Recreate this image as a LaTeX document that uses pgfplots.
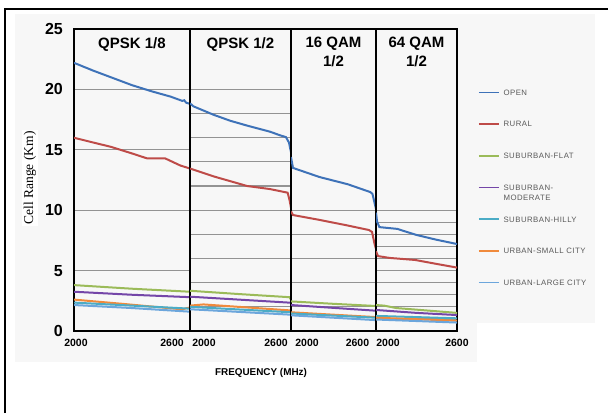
\documentclass[border=0pt]{standalone}
\usepackage{pgfplots}
\pgfplotsset{compat=1.18}
\usepackage{fontspec}
\setmainfont{Liberation Sans}
\newfontfamily\seriffont{Liberation Serif}

\definecolor{cOpen}{HTML}{3E72B8}
\definecolor{cRural}{HTML}{BE4B48}
\definecolor{cFlat}{HTML}{9BBB59}
\definecolor{cMod}{HTML}{7446A8}
\definecolor{cHilly}{HTML}{4BACC6}
\definecolor{cSmall}{HTML}{F08A3C}
\definecolor{cLarge}{HTML}{6CA6DC}
\definecolor{legendgray}{HTML}{595959}
\definecolor{bggray}{HTML}{F7F7F7}

\pgfplotsset{
  panel/.style={
    scale only axis, height=302pt,
    ymin=0, ymax=25, xmin=2000, xmax=2600,
    axis line style={black, line width=1.4pt},
    ymajorgrids, grid style={gray!85, line width=1.2pt},
    major tick length=0pt,
    yticklabels={},
    xticklabel style={font=\fontsize{10.5}{12}\selectfont\bfseries, inner sep=0pt, yshift=-8pt},
    title style={at={(0.5,1)}, anchor=north, yshift=-14pt, align=center,
      font=\fontsize{15}{19}\selectfont\bfseries, inner sep=0pt},
    every axis plot/.append style={line width=2pt, no markers},
  }
}

\begin{document}
\begin{tikzpicture}
\path[use as bounding box] (0,0) rectangle (608pt,413pt);
\fill[bggray] (15pt,51pt) rectangle (477pt,399pt);
\fill[bggray] (477pt,90pt) rectangle (595pt,399pt);
\draw[black, line width=2pt] (5pt,0pt) -- (5pt,404pt) -- (608pt,404pt);

% Panel 1: QPSK 1/8
\begin{axis}[panel, at={(74pt,82pt)}, anchor=south west, width=116pt,
  title={QPSK 1/8},
  ytick={0,5,10,15,20,25}, yticklabels={0,5,10,15,20,25},
  yticklabel style={font=\fontsize{16}{18}\selectfont\bfseries, inner sep=0pt, xshift=-11pt},
  xtick={2010,2507}, xticklabels={2000,2600}]
\addplot[cFlat] coordinates {(2000,3.8)(2150,3.65)(2300,3.5)(2600,3.25)};
\addplot[cMod] coordinates {(2000,3.25)(2300,3.0)(2600,2.8)};
\addplot[cSmall] coordinates {(2000,2.6)(2250,2.25)(2520,1.85)(2560,1.8)(2600,1.95)};
\addplot[cHilly] coordinates {(2000,2.35)(2300,2.1)(2600,1.85)};
\addplot[cLarge] coordinates {(2000,2.15)(2300,1.9)(2600,1.6)};
\addplot[cRural] coordinates {(2000,16.0)(2100,15.6)(2190,15.25)(2290,14.75)(2376,14.3)(2470,14.3)(2550,13.7)(2600,13.45)};
\addplot[cOpen] coordinates {(2000,22.2)(2100,21.55)(2200,20.95)(2300,20.35)(2400,19.85)(2500,19.4)(2560,19.05)(2570,19.1)(2580,18.9)(2600,18.8)};
\end{axis}

% Panel 2: QPSK 1/2
\begin{axis}[panel, at={(190pt,82pt)}, anchor=south west, width=101pt,
  title={QPSK 1/2},
  ytick={2,4,...,20},
  xtick={2083,2511}, xticklabels={2000,2600}]
\addplot[cFlat] coordinates {(2000,3.33)(2300,3.05)(2590,2.8)(2600,2.6)};
\addplot[cMod] coordinates {(2000,2.84)(2600,2.34)};
\addplot[cSmall] coordinates {(2000,2.1)(2080,2.2)(2600,1.7)};
\addplot[cHilly] coordinates {(2000,2.0)(2600,1.55)};
\addplot[cLarge] coordinates {(2000,1.8)(2600,1.35)};
\addplot[cRural] coordinates {(2000,13.45)(2140,12.8)(2240,12.4)(2340,12.0)(2475,11.75)(2580,11.45)(2592,10.8)(2600,10.2)};
\addplot[cOpen] coordinates {(2000,18.85)(2020,18.6)(2140,17.9)(2240,17.4)(2340,17.0)(2475,16.5)(2535,16.2)(2570,16.05)(2588,15.6)(2600,14.8)};
\end{axis}

% Panel 3: 16 QAM 1/2
\begin{axis}[panel, at={(291pt,82pt)}, anchor=south west, width=85pt,
  title={16 QAM\\1/2},
  ytick={2,4,...,10},
  xtick={2113,2469}, xticklabels={2000,2600}]
\addplot[cFlat] coordinates {(2000,2.45)(2300,2.25)(2600,2.07)};
\addplot[cMod] coordinates {(2000,2.15)(2600,1.68)};
\addplot[cSmall] coordinates {(2000,1.55)(2600,1.15)};
\addplot[cHilly] coordinates {(2000,1.45)(2600,1.1)};
\addplot[cLarge] coordinates {(2000,1.3)(2600,0.9)};
\addplot[cRural] coordinates {(2000,9.9)(2014,9.6)(2200,9.2)(2393,8.75)(2550,8.36)(2572,8.2)(2590,7.2)(2600,6.8)};
\addplot[cOpen] coordinates {(2000,14.4)(2014,13.5)(2200,12.75)(2400,12.15)(2560,11.5)(2575,11.35)(2590,10.6)(2600,10.1)};
\end{axis}

% Panel 4: 64 QAM 1/2
\begin{axis}[panel, at={(376pt,82pt)}, anchor=south west, width=81pt,
  title={64 QAM\\1/2},
  ytick={1,2,...,10},
  xtick={2089,2600}, xticklabels={2000,2600},
  legend cell align=left,
  legend image code/.code={\draw[#1, line width=1.6pt] (0pt,0pt) -- (20pt,0pt);},
  legend style={at={(1.259,0.799)}, anchor=north west, draw=none, fill=none,
    inner sep=0pt, outer sep=0pt, row sep=26.2pt, text=legendgray,
    font=\fontsize{7.8}{10}\selectfont\addfontfeature{LetterSpace=6},
    nodes={inner sep=0pt, text height=5.5pt, text depth=0pt},
    /tikz/every odd column/.append style={column sep=4pt}}]
\addplot[cOpen] coordinates {(2000,9.8)(2008,9.05)(2025,8.6)(2160,8.45)(2200,8.3)(2300,7.95)(2450,7.55)(2600,7.2)};
\addlegendentry{OPEN}
\addplot[cRural] coordinates {(2000,6.6)(2015,6.2)(2100,6.05)(2290,5.88)(2450,5.55)(2600,5.25)};
\addlegendentry{RURAL}
\addplot[cFlat] coordinates {(2000,2.15)(2060,2.1)(2150,1.9)(2600,1.5)};
\addlegendentry{SUBURBAN-FLAT}
\addplot[cMod] coordinates {(2000,1.74)(2300,1.5)(2600,1.32)};
\addlegendentry{\smash{\begin{tabular}[t]{@{}l@{}}SUBURBAN-\\MODERATE\end{tabular}}}
\addplot[cHilly] coordinates {(2000,1.25)(2600,1.05)};
\addlegendentry{SUBURBAN-HILLY}
\addplot[cSmall] coordinates {(2000,1.1)(2600,0.85)};
\addlegendentry{URBAN-SMALL CITY}
\addplot[cLarge] coordinates {(2000,0.95)(2600,0.7)};
\addlegendentry{URBAN-LARGE CITY}
\end{axis}

\node[rotate=90, font=\seriffont\fontsize{13.5}{16}\selectfont, fill=white, inner sep=2pt] at (30pt,235pt) {Cell Range (Km)};
\node[font=\fontsize{9.9}{12}\selectfont\bfseries] at (261pt,40.3pt) {FREQUENCY (MHz)};
\end{tikzpicture}
\end{document}
